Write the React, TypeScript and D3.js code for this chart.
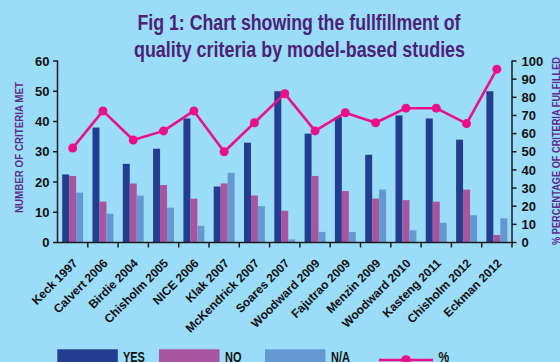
import React from "react";
import * as d3 from "d3";

// Studies and criteria counts (61 quality criteria in total)
const studies = [
  "Keck 1997",
  "Calvert 2006",
  "Birdie 2004",
  "Chisholm 2005",
  "NICE 2006",
  "Klak 2007",
  "McKendrick 2007",
  "Soares 2007",
  "Woodward 2009",
  "Fajutrao 2009",
  "Menzin 2009",
  "Woodward 2010",
  "Kasteng 2011",
  "Chisholm 2012",
  "Eckman 2012",
];
const yesCounts = [22.5, 38, 26, 31, 41, 18.5, 33, 50, 36, 41.5, 29, 42, 41, 34, 50];
const noCounts = [22, 13.5, 19.5, 19, 14.5, 19.5, 15.5, 10.5, 22, 17, 14.5, 14, 13.5, 17.5, 2.5];
const naCounts = [16.5, 9.5, 15.5, 11.5, 5.5, 23, 12, 1, 3.5, 3.5, 17.5, 4, 6.5, 9, 8];
const percentFulfilled = [52, 72.5, 56.5, 61.5, 72.5, 50, 66, 82, 61.5, 71.5, 66, 74, 74, 65.5, 95.5];

const seriesNames = ["YES", "NO", "N/A"];
const seriesColors = ["#233e8e", "#a8559f", "#6598d0"];
const countTicks = [0, 10, 20, 30, 40, 50, 60];
const percentTicks = [0, 10, 20, 30, 40, 50, 60, 70, 80, 90, 100];

const W = 560;
const H = 362;
const plot = { left: 57.5, right: 512, top: 61, bottom: 242.5 };
const BG = "#9bdcf8";
const LINE = "#ec0f8c";
const TITLE = "#4b2278";
const AXIS = "#1c1c1c";
const SANS = "'Liberation Sans', Arial, Helvetica, sans-serif";

// Legend layout: swatch left edges and label left edges
const legendSwatchX = [57.3, 159, 265];
const legendLabelX = [123, 225, 331];

export default function App() {
  const x = d3.scaleBand<string>().domain(studies).range([plot.left, plot.right]).padding(0);
  const bw = x.bandwidth();
  const xInner = d3
    .scaleBand<string>()
    .domain(seriesNames)
    .range([bw * 0.155, bw * 0.845])
    .padding(0);
  const yLeft = d3.scaleLinear().domain([0, 60]).range([plot.bottom, plot.top]);
  const yRight = d3.scaleLinear().domain([0, 100]).range([plot.bottom, plot.top]);

  const series = [yesCounts, noCounts, naCounts];
  const cx = (i: number) => (x(studies[i]) as number) + bw / 2;

  const linePath = d3
    .line<number>()
    .x((_, i) => cx(i))
    .y((d) => yRight(d))(percentFulfilled);

  return (
    <div style={{ position: "fixed", left: 0, top: 0 }}>
      <svg width={W} height={H} style={{ display: "block" }}>
        <rect x={0} y={0} width={W} height={H} fill={BG} />

        {/* Title */}
        <g fill={TITLE} fontFamily={SANS} fontWeight="bold" fontSize={21.5} textAnchor="middle">
          <text x={299} y={30.4} textLength={323} lengthAdjust="spacingAndGlyphs">
            Fig 1: Chart showing the fullfillment of
          </text>
          <text x={299.5} y={57} textLength={331} lengthAdjust="spacingAndGlyphs">
            quality criteria by model-based studies
          </text>
        </g>

        {/* Bars */}
        {series.map((vals, s) => (
          <g key={seriesNames[s]} fill={seriesColors[s]}>
            {vals.map((v, i) => (
              <rect
                key={studies[i]}
                x={(x(studies[i]) as number) + (xInner(seriesNames[s]) as number)}
                y={yLeft(v)}
                width={xInner.bandwidth()}
                height={plot.bottom - yLeft(v)}
              />
            ))}
          </g>
        ))}

        {/* Percentage line */}
        <path d={linePath || ""} fill="none" stroke={LINE} strokeWidth={2.6} strokeLinejoin="round" />
        {percentFulfilled.map((p, i) => (
          <circle key={studies[i]} cx={cx(i)} cy={yRight(p)} r={4.5} fill={LINE} />
        ))}

        {/* Left axis */}
        <g stroke={AXIS} strokeWidth={1.5}>
          <line x1={plot.left} x2={plot.left} y1={plot.top - 0.5} y2={plot.bottom + 0.75} />
          {countTicks.map((t) => (
            <line key={t} x1={plot.left - 4.5} x2={plot.left} y1={yLeft(t)} y2={yLeft(t)} />
          ))}
        </g>
        <g fontFamily={SANS} fontWeight="bold" fontSize={13} fill="#111" textAnchor="end">
          {countTicks.map((t) => (
            <text key={t} x={plot.left - 8} y={yLeft(t) + 4.6}>
              {t}
            </text>
          ))}
        </g>

        {/* Right axis */}
        <g stroke={AXIS} strokeWidth={1.5}>
          <line x1={plot.right} x2={plot.right} y1={plot.top - 0.5} y2={plot.bottom + 0.75} />
          {percentTicks.map((t) => (
            <line key={t} x1={plot.right} x2={plot.right + 4.5} y1={yRight(t)} y2={yRight(t)} />
          ))}
        </g>
        <g fontFamily={SANS} fontWeight="bold" fontSize={13} fill="#111" textAnchor="start">
          {percentTicks.map((t) => (
            <text key={t} x={plot.right + 9.5} y={yRight(t) + 4.6}>
              {t}
            </text>
          ))}
        </g>

        {/* Bottom axis */}
        <g stroke={AXIS} strokeWidth={1.5}>
          <line x1={plot.left} x2={plot.right} y1={plot.bottom} y2={plot.bottom} />
          {studies.map((d) => (
            <line
              key={d}
              x1={(x(d) as number) + bw}
              x2={(x(d) as number) + bw}
              y1={plot.bottom}
              y2={plot.bottom + 5}
            />
          ))}
        </g>
        <g fontFamily={SANS} fontWeight="bold" fontSize={12} fill="#111" textAnchor="end">
          {studies.map((d, i) => (
            <text key={d} transform={`translate(${cx(i) + 5.5},${plot.bottom + 21.5}) rotate(-45)`}>
              {d}
            </text>
          ))}
        </g>

        {/* Axis titles */}
        <text
          transform={`translate(23,147.5) rotate(-90)`}
          textAnchor="middle"
          fontFamily={SANS}
          fontWeight="bold"
          fontSize={10.5}
          fill="#5b2c8c"
          textLength={131}
          lengthAdjust="spacingAndGlyphs"
        >
          NUMBER OF CRITERIA MET
        </text>
        <text
          transform={`translate(560,151) rotate(-90)`}
          textAnchor="middle"
          fontFamily={SANS}
          fontWeight="bold"
          fontSize={10}
          fill="#5b2c8c"
          textLength={188}
          lengthAdjust="spacingAndGlyphs"
        >
          % PERCENTAGE OF CRITERIA FULFILLED
        </text>

        {/* Legend */}
        <g fontFamily={SANS} fontWeight="bold" fontSize={15} fill="#111">
          {seriesNames.map((name, s) => (
            <g key={name}>
              <rect x={legendSwatchX[s]} y={349.3} width={60.5} height={14} fill={seriesColors[s]} />
              <text transform={`translate(${legendLabelX[s]},361.5) scale(0.73,1)`}>{name}</text>
            </g>
          ))}
          <line x1={379} x2={433} y1={360} y2={360} stroke={LINE} strokeWidth={2.6} />
          <circle cx={406} cy={360} r={4.8} fill={LINE} />
          <text transform={`translate(438.6,361.5) scale(0.8,1)`}>%</text>
        </g>
      </svg>
    </div>
  );
}
